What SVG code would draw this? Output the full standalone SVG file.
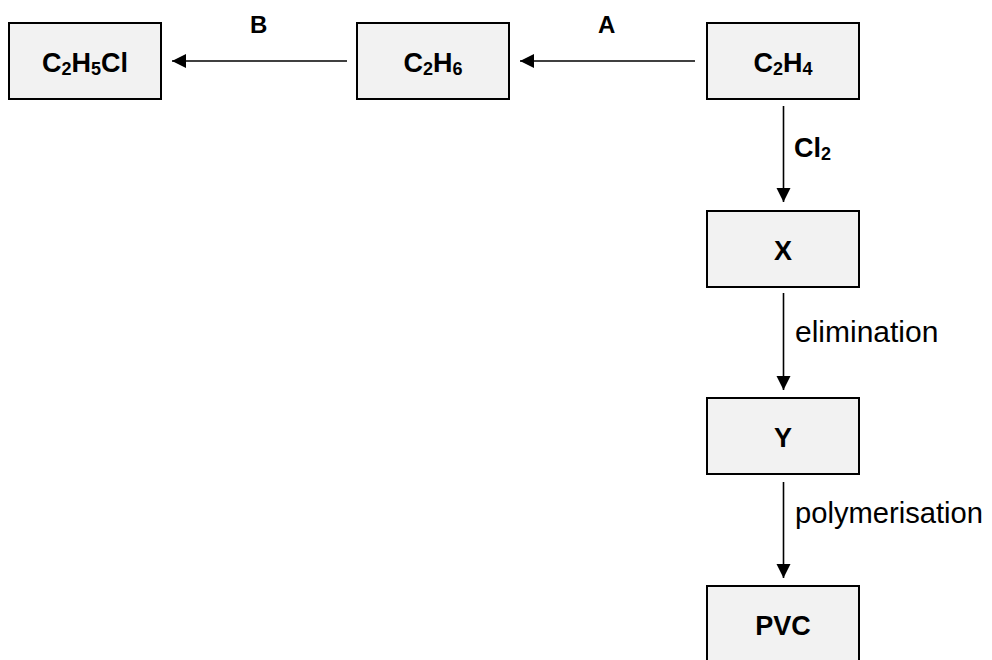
<svg xmlns="http://www.w3.org/2000/svg" width="992" height="660" viewBox="0 0 992 660">
<style>
.box{fill:#f2f2f2;stroke:#000;stroke-width:2}
.nt{font-family:"Liberation Sans",Arial,sans-serif;font-weight:bold;font-size:27px;text-anchor:middle;fill:#000}
.lb{font-family:"Liberation Sans",Arial,sans-serif;font-weight:bold;font-size:24px;fill:#000}
.lr{font-family:"Liberation Sans",Arial,sans-serif;font-size:30px;fill:#000}
.sub{font-size:18px}
.edge{stroke:#000;stroke-width:1.6;fill:none;marker-end:url(#ah)}
</style>
<defs>
<marker id="ah" markerUnits="userSpaceOnUse" markerWidth="16" markerHeight="16" viewBox="0 0 16 16" refX="14" refY="8" orient="auto">
<path d="M0,1 L14,8 L0,15 Z" fill="#000"/>
</marker>
</defs>
<rect width="992" height="660" fill="#fff"/>
<g id="connectors">
<line class="edge" x1="347" y1="61" x2="172" y2="61"/>
<line class="edge" x1="695" y1="61" x2="520" y2="61"/>
<line class="edge" x1="783.5" y1="106" x2="783.5" y2="202"/>
<line class="edge" x1="783.5" y1="293" x2="783.5" y2="390"/>
<line class="edge" x1="783.5" y1="482" x2="783.5" y2="578"/>
<text class="lb" x="250" y="33">B</text>
<text class="lb" x="598" y="33">A</text>
<text class="nt" x="794" y="157" style="text-anchor:start">Cl<tspan class="sub" dy="3">2</tspan></text>
<text class="lr" x="795" y="342">elimination</text>
<text class="lr" x="795" y="523" textLength="188" lengthAdjust="spacingAndGlyphs">polymerisation</text>
</g>
<g id="c2h5cl">
<rect class="box" x="9" y="23" width="152" height="76"/>
<text class="nt" x="85" y="72">C<tspan class="sub" dy="3">2</tspan><tspan dy="-3">H</tspan><tspan class="sub" dy="3">5</tspan><tspan dy="-3">Cl</tspan></text>
</g>
<g id="c2h6">
<rect class="box" x="357" y="23" width="152" height="76"/>
<text class="nt" x="433" y="72">C<tspan class="sub" dy="3">2</tspan><tspan dy="-3">H</tspan><tspan class="sub" dy="3">6</tspan></text>
</g>
<g id="c2h4">
<rect class="box" x="707" y="23" width="152" height="76"/>
<text class="nt" x="783" y="72">C<tspan class="sub" dy="3">2</tspan><tspan dy="-3">H</tspan><tspan class="sub" dy="3">4</tspan></text>
</g>
<g id="x">
<rect class="box" x="707" y="211" width="152" height="76"/>
<text class="nt" x="783" y="260">X</text>
</g>
<g id="y">
<rect class="box" x="707" y="398" width="152" height="76"/>
<text class="nt" x="783" y="447">Y</text>
</g>
<g id="pvc">
<rect class="box" x="707" y="586" width="152" height="76"/>
<text class="nt" x="783" y="635">PVC</text>
</g>
</svg>
